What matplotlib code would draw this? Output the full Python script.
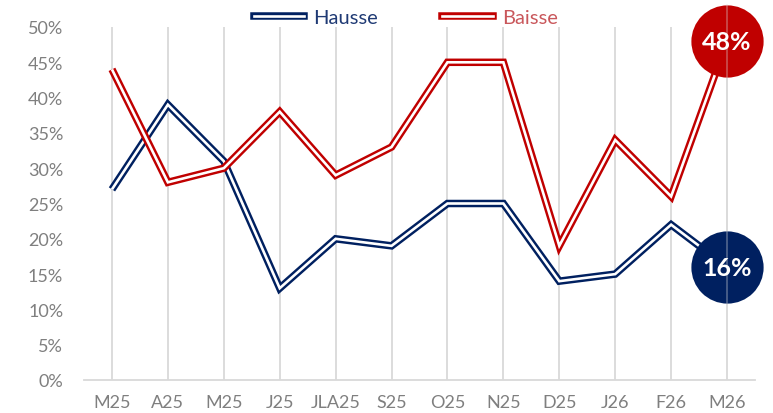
import matplotlib
matplotlib.use("Agg")
import matplotlib.pyplot as plt
from matplotlib.lines import Line2D

categories = ["M25", "A25", "M25", "J25", "JLA25", "S25", "O25", "N25", "D25", "J26", "F26", "M26"]
hausse = [27, 39, 31, 13, 20, 19, 25, 25, 14, 15, 22, 16]
baisse = [44, 28, 30, 38, 29, 33, 45, 45, 19, 34, 26, 48]
yticks = [0, 5, 10, 15, 20, 25, 30, 35, 40, 45, 50]
ytick_labels = [f"{v}%" for v in yticks]

NAVY = "#002060"
RED = "#C00000"
GRID = "#D9D9D9"
TXT = "#7F7F7F"

plt.rcParams['font.family'] = ['Lato', 'DejaVu Sans']

fig = plt.figure(figsize=(7.73, 4.14), dpi=100)
ax = fig.add_axes([84/773, 1-381/414, (755-84)/773, (381-28)/414])

x = list(range(len(categories)))
ax.set_xlim(-0.5, len(categories) - 0.5)
ax.set_ylim(0, 50)

for xi in x:
    ax.axvline(xi, color=GRID, lw=1.3, zorder=1)

outer_w, inner_w = 5.4, 1.9
for vals, col, z in [(hausse, NAVY, 3), (baisse, RED, 5)]:
    ax.plot(x, vals, color=col, lw=outer_w, solid_joinstyle='miter', solid_capstyle='butt', zorder=z)
    ax.plot(x, vals, color='white', lw=inner_w, solid_joinstyle='miter', solid_capstyle='butt', zorder=z + 0.5)

# end circles
for vals, col in [(hausse, NAVY), (baisse, RED)]:
    xe, ye = x[-1], vals[-1]
    ax.plot([xe], [ye], marker='o', markersize=52, color=col, markeredgewidth=0, zorder=8, clip_on=False)
    ax.text(xe, ye, f"{ye}%", color='white', fontsize=18, fontweight='bold', ha='center', va='center',
            zorder=10, clip_on=False)
ax.plot([x[-1], x[-1]], [hausse[-1] - 5.1, baisse[-1] + 5.1], color=GRID, lw=1.3, alpha=0.35, zorder=9, clip_on=False)

for s in ['top', 'right', 'left']:
    ax.spines[s].set_visible(False)
ax.spines['bottom'].set_color(GRID)
ax.spines['bottom'].set_linewidth(1.3)

ax.set_xticks(x)
ax.set_xticklabels(categories)
ax.set_yticks(yticks)
ax.set_yticklabels(ytick_labels)
ax.tick_params(axis='both', length=0, labelsize=13, labelcolor=TXT)
ax.tick_params(axis='y', pad=15)
ax.tick_params(axis='x', pad=10)

h_handle = (Line2D([], [], color=NAVY, lw=outer_w), Line2D([], [], color='white', lw=inner_w))
b_handle = (Line2D([], [], color=RED, lw=outer_w), Line2D([], [], color='white', lw=inner_w))
leg = fig.legend([h_handle, b_handle], ["Hausse", "Baisse"], loc='upper center',
                 bbox_to_anchor=(0.525, 1.02), ncol=2, frameon=False, fontsize=14.5,
                 handlelength=2.5, handletextpad=0.45, columnspacing=3.2)
leg.get_texts()[0].set_color("#1F3A74")
leg.get_texts()[1].set_color("#C9575B")

fig.savefig("out.png", dpi=100)
